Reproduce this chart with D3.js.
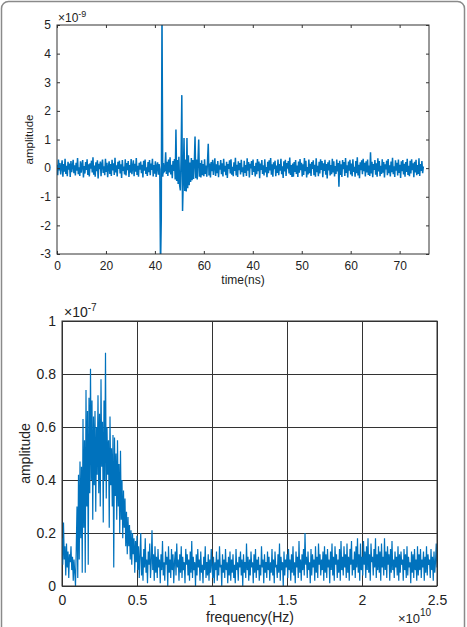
<!DOCTYPE html>
<html>
<head>
<meta charset="utf-8">
<script src="https://cdn.jsdelivr.net/npm/d3@7"></script>
<style>
  body { margin: 0; background: #fff; font-family: "Liberation Sans", Arial, sans-serif; }
  svg { display: block; }
</style>
</head>
<body>
<div id="chart"></div>
<script>

// ---- top panel: time signal, values in 1e-11 (hundredths of the 1e-9 axis unit)
var timeStep = 0.15;
var timeSignal = [
  12,-25,30,-8,18,-22,5,27,-30,14,-12,33,-20,8,-28,22,-5,16,-31,25,-14,6,29,-18,10,
  -26,19,-9,35,-21,3,-27,24,-16,11,28,-33,7,-19,21,-6,31,-24,13,-29,17,-2,26,-15,38,
  -23,9,-30,20,-11,27,-36,15,-4,23,-28,12,30,-17,6,-25,33,-13,19,-32,2,24,-20,14,-27,
  29,-8,17,-24,36,-15,10,-29,22,-3,26,-19,13,-34,28,-10,5,-22,31,-26,18,-7,25,-31,11,
  -16,32,-21,4,27,-28,15,-12,35,-24,8,-30,19,-5,23,-18,12,-33,26,-9,30,-20,3,-27,21,
  -14,28,-25,16,-6,33,-29,11,-19,24,-31,7,20,-23,14,-4,-350,-180,550,-30,18,-12,-8,55,-20,
  22,-27,30,-15,38,-22,12,-35,25,-10,32,-40,135,-45,28,-55,40,-60,-78,35,255,-150,-40,105,-80,
  30,-82,105,-70,45,-60,20,-48,35,-42,28,-38,15,110,-35,30,-40,22,100,-30,18,-33,27,-25,14,
  -28,31,-20,9,-30,24,85,-26,16,-33,21,-11,29,-24,6,34,-27,13,-18,25,-32,10,-5,28,-21,
  17,-29,33,-12,8,-25,22,-34,14,-3,27,-19,31,-23,5,-28,20,-10,36,-26,12,-31,24,-7,18,
  -22,29,-14,3,-30,26,-17,11,-27,34,-9,21,-33,15,-1,25,-24,30,-13,7,-29,19,-21,32,-11,
  23,-35,16,-6,28,-20,10,-26,31,-15,4,-32,22,-18,27,-8,35,-23,13,-30,20,-4,26,-28,9,
  -17,30,-25,14,-9,33,-21,6,-34,24,-12,29,-27,18,-2,25,-19,37,-24,11,-31,16,-30,21,-13,
  28,-20,9,-31,23,-16,32,-7,19,-29,13,-24,35,-11,26,-33,4,-22,30,-18,15,-27,21,-3,27,
  -25,12,-30,34,-14,8,-28,22,-19,31,-6,25,-32,17,-10,29,-23,14,-36,20,-8,27,-26,11,-21,
  33,-15,24,-29,7,-20,30,-12,18,-65,26,-24,13,-31,28,-4,21,-27,35,-17,10,-33,23,-9,29,
  -22,16,-28,31,-13,5,-30,25,-18,38,-26,12,-35,20,-7,27,-21,33,-11,19,-29,24,-15,30,-24,
  9,-27,55,-19,22,-32,14,-6,28,-23,17,-30,34,-12,25,-28,8,-20,31,-16,21,-33,13,-4,26,
  -25,32,-18,10,-29,23,-14,36,-21,6,-31,27,-9,19,-26,30,-17,12,-34,24,-11,28,-22,15,-30,
  21,-13,33,-24,8,-28,26,-19,31,-7,17,-32,22,-15,29,-25,11,-20,34,-27,14,-10,25,-18,6
];
var timeTicks = [0, 10, 20, 30, 40, 50, 60, 70];
var timeTickLabels = ["0", "20", "40", "60", "40", "50", "60", "70"];
var ampTicks = [-3, -2, -1, 0, 1, 2, 3, 4, 5];
var ampTickLabels = ["-3", "-2", "-1", "0", "1", "2", "3", "4", "5"];

// ---- bottom panel: spectrum, frequency step in 1e10 Hz, values in 1e-9 (hundredths of 1e-7)
var freqStep = 0.005;
var spectrum = [
  18,8,24,10,15,4,16,7,13,3,12,9,15,6,11,2,10,5,0,14,
  30,3,42,10,47,18,45,5,63,22,55,5,74,30,66,8,71,35,82,40,
  70,25,64,38,66,28,60,42,72,35,65,30,78,45,62,24,70,40,88,33,
  60,42,55,22,64,38,52,30,57,7,56,34,50,25,55,30,46,20,51,25,
  40,18,36,22,33,15,28,12,26,15,23,10,21,8,20,12,18,5,17,9,19,
  6,15,3,12,20,4,11,2,14,7,18,5,10,1,13,8,16,3,9,21,6,12,2,15,5,
  11,3,14,7,10,1,12,6,17,4,9,2,13,8,11,0,15,5,10,3,14,6,12,1,9,
  13,4,16,7,10,2,12,5,15,3,11,6,9,1,14,8,12,4,10,2,13,5,17,3,11,
  6,9,0,12,4,14,7,10,2,13,5,8,1,11,6,15,3,9,4,12,2,10,5,14,7,
  3,11,1,9,6,13,2,10,4,15,7,8,0,12,5,10,3,14,6,9,1,11,4,13,2,
  10,5,12,3,8,1,14,6,9,2,11,7,13,4,10,0,12,5,9,3,16,6,11,2,10,
  4,13,7,9,1,12,5,14,3,10,6,11,2,8,4,15,7,10,1,12,5,9,3,13,6,
  11,2,9,5,14,4,10,1,13,7,8,3,12,5,16,2,11,6,9,0,13,4,10,7,12,
  3,14,6,10,2,12,5,15,4,9,1,13,7,11,3,17,5,10,2,12,6,14,4,20,8,
  11,3,13,6,9,1,14,4,12,7,10,2,15,5,11,3,16,8,12,4,10,6,13,2,15,
  5,12,3,14,7,10,1,13,6,16,4,11,2,15,8,12,3,10,5,14,2,17,6,11,4,
  15,7,12,3,16,5,11,2,14,8,17,4,10,6,13,3,15,7,18,5,12,2,16,6,11,
  4,17,8,13,3,15,6,18,5,12,2,16,9,11,4,14,7,18,3,12,6,15,5,13,2,
  16,7,11,4,18,6,13,3,15,8,12,2,14,5,17,6,10,3,13,7,11,4,15,2,12,
  5,13,8,10,2,14,6,12,3,15,4,11,7,9,1,13,5,12,3,14,6,10,2,15,4,
  12,6,14,3,10,7,13,2,11,5,15,4,12,8,10,3,14,6,11,2,13,5,9,16,7
];
var freqTicks = [0, 0.5, 1, 1.5, 2, 2.5];
var freqTickLabels = ["0", "0.5", "1", "1.5", "2", "2.5"];
var specTicks = [0, 0.2, 0.4, 0.6, 0.8, 1];
var specTickLabels = ["0", "0.2", "0.4", "0.6", "0.8", "1"];

var lineColor = "#0072BD";
var axisColor = "#333";

var svg = d3.select("#chart")
    .append("svg")
    .attr("width", 467)
    .attr("height", 627);

// outer frame of the figure
svg.append("rect")
    .attr("x", 1.5).attr("y", 1.5)
    .attr("width", 463).attr("height", 660)
    .attr("rx", 7)
    .attr("fill", "none")
    .attr("stroke", "#8a8a8a")
    .attr("stroke-width", 1.5);

function styleAxis(g, size) {
  g.selectAll("path").remove();
  g.selectAll("line").attr("stroke", axisColor);
  g.selectAll("text")
      .attr("fill", "#222")
      .attr("font-size", size)
      .attr("font-family", "'Liberation Sans', Arial, sans-serif");
}

// ================= top panel =================
var t = { left: 57, right: 429, top: 25, bottom: 254 };

var xTime = d3.scaleLinear().domain([0, 76]).range([t.left, t.right]);
var yAmp = d3.scaleLinear().domain([-3, 5]).range([t.bottom, t.top]);

svg.append("clipPath").attr("id", "clipTop")
  .append("rect")
    .attr("x", t.left).attr("y", t.top)
    .attr("width", t.right - t.left).attr("height", t.bottom - t.top);

var timeLine = d3.line()
    .x(function(d, i) { return xTime(i * timeStep); })
    .y(function(d) { return yAmp(d / 100); });

svg.append("path")
    .datum(timeSignal)
    .attr("clip-path", "url(#clipTop)")
    .attr("d", timeLine)
    .attr("fill", "none")
    .attr("stroke", lineColor)
    .attr("stroke-width", 1.5);

svg.append("g")
    .attr("transform", "translate(0," + t.bottom + ")")
    .call(d3.axisBottom(xTime).tickValues(timeTicks)
        .tickFormat(function(d, i) { return timeTickLabels[i]; })
        .tickSizeInner(-3).tickSizeOuter(0).tickPadding(7))
    .call(styleAxis, 12);

svg.append("g")
    .attr("transform", "translate(0," + t.top + ")")
    .call(d3.axisTop(xTime).tickValues(timeTicks).tickFormat("")
        .tickSizeInner(-3).tickSizeOuter(0))
    .call(styleAxis, 12);

svg.append("g")
    .attr("transform", "translate(" + t.left + ",0)")
    .call(d3.axisLeft(yAmp).tickValues(ampTicks)
        .tickFormat(function(d, i) { return ampTickLabels[i]; })
        .tickSizeInner(-3).tickSizeOuter(0).tickPadding(6))
    .call(styleAxis, 12);

svg.append("g")
    .attr("transform", "translate(" + t.right + ",0)")
    .call(d3.axisRight(yAmp).tickValues(ampTicks).tickFormat("")
        .tickSizeInner(-3).tickSizeOuter(0))
    .call(styleAxis, 12);

svg.append("rect")
    .attr("x", t.left).attr("y", t.top)
    .attr("width", t.right - t.left).attr("height", t.bottom - t.top)
    .attr("fill", "none").attr("stroke", axisColor).attr("stroke-width", 1);

var expTop = svg.append("text")
    .attr("x", t.left + 1).attr("y", t.top - 3)
    .attr("font-size", 12).attr("fill", "#222");
expTop.append("tspan").text("\u00d710");
expTop.append("tspan").attr("dy", -5).attr("font-size", 9).text("-9");

svg.append("text")
    .attr("transform", "translate(33," + (t.top + t.bottom) / 2 + ") rotate(-90)")
    .attr("text-anchor", "middle")
    .attr("font-size", 11.5).attr("fill", "#222")
    .text("amplitude");

svg.append("text")
    .attr("x", 243).attr("y", 284)
    .attr("text-anchor", "middle")
    .attr("font-size", 12).attr("fill", "#222")
    .text("time(ns)");

// ================= bottom panel =================
var b = { left: 62, right: 437, top: 321, bottom: 586 };

var xFreq = d3.scaleLinear().domain([0, 2.5]).range([b.left, b.right]);
var ySpec = d3.scaleLinear().domain([0, 1]).range([b.bottom, b.top]);

svg.append("clipPath").attr("id", "clipBottom")
  .append("rect")
    .attr("x", b.left).attr("y", b.top)
    .attr("width", b.right - b.left).attr("height", b.bottom - b.top);

// grid
svg.append("g")
    .attr("transform", "translate(0," + b.bottom + ")")
    .call(d3.axisBottom(xFreq).tickValues(freqTicks)
        .tickFormat(function(d, i) { return freqTickLabels[i]; })
        .tickSizeInner(-(b.bottom - b.top)).tickSizeOuter(0).tickPadding(9))
    .call(styleAxis, 14);

svg.append("g")
    .attr("transform", "translate(" + b.left + ",0)")
    .call(d3.axisLeft(ySpec).tickValues(specTicks)
        .tickFormat(function(d, i) { return specTickLabels[i]; })
        .tickSizeInner(-(b.right - b.left)).tickSizeOuter(0).tickPadding(6))
    .call(styleAxis, 14);

var specLine = d3.line()
    .x(function(d, i) { return xFreq(i * freqStep); })
    .y(function(d) { return ySpec(d / 100); });

svg.append("path")
    .datum(spectrum)
    .attr("clip-path", "url(#clipBottom)")
    .attr("d", specLine)
    .attr("fill", "none")
    .attr("stroke", lineColor)
    .attr("stroke-width", 1.2);

svg.append("rect")
    .attr("x", b.left).attr("y", b.top)
    .attr("width", b.right - b.left).attr("height", b.bottom - b.top)
    .attr("fill", "none").attr("stroke", axisColor).attr("stroke-width", 1);

var expBot = svg.append("text")
    .attr("x", b.left + 2).attr("y", b.top - 4)
    .attr("font-size", 14).attr("fill", "#222");
expBot.append("tspan").text("\u00d710");
expBot.append("tspan").attr("dy", -6).attr("font-size", 10).text("-7");

svg.append("text")
    .attr("transform", "translate(30," + (b.top + b.bottom) / 2 + ") rotate(-90)")
    .attr("text-anchor", "middle")
    .attr("font-size", 14).attr("fill", "#222")
    .text("amplitude");

svg.append("text")
    .attr("x", 250).attr("y", 622)
    .attr("text-anchor", "middle")
    .attr("font-size", 14).attr("fill", "#222")
    .text("frequency(Hz)");

var expX = svg.append("text")
    .attr("x", 398).attr("y", 623)
    .attr("font-size", 13).attr("fill", "#222");
expX.append("tspan").text("\u00d710");
expX.append("tspan").attr("dy", -7).attr("font-size", 10).text("10");

</script>
</body>
</html>
